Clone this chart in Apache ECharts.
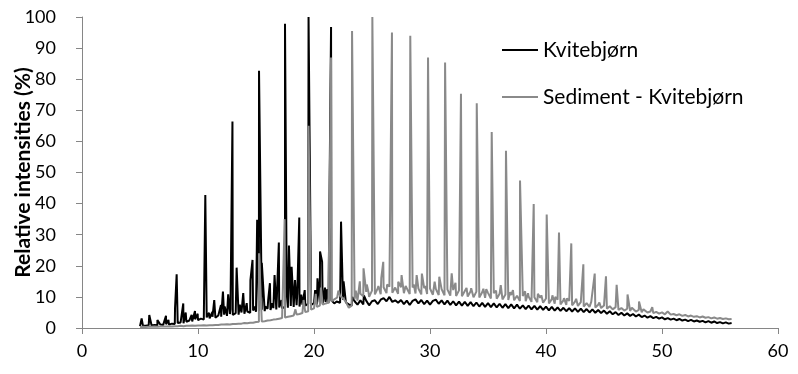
<!DOCTYPE html>
<html>
<head>
<meta charset="utf-8">
<script src="https://cdn.jsdelivr.net/npm/echarts@6/dist/echarts.min.js"></script>
<style>
  html, body { margin: 0; padding: 0; background: #fff; }
  #chart { width: 798px; height: 374px; }
</style>
</head>
<body>
<div id="chart"></div>
<script>
// retention time axis (minutes), baseline sampled every 0.25 from 5.0
var seriesNames = ["Kvitebjørn", "Sediment - Kvitebjørn"];
var xTicks = [0, 10, 20, 30, 40, 50, 60];
var yTicks = [0, 10, 20, 30, 40, 50, 60, 70, 80, 90, 100];
var baseStart = 5.0;
var baseStep = 0.25;

// Kvitebjørn baseline (relative intensity %)
var kvitBase = [
  0.6, 0.8, 0.7, 0.9, 0.8, 1.0, 0.9, 1.1, 1.0,
  1.2, 1.1, 1.4, 1.3, 1.6, 1.8, 1.5, 2.0,
  2.4, 2.1, 2.8, 2.5, 3.0, 2.7, 3.4, 3.1,
  3.6, 3.3, 4.0, 3.6, 4.3, 3.9, 4.5, 4.2,
  4.8, 4.3, 5.0, 4.6, 5.3, 4.9, 5.6, 5.2,
  5.5, 5.9, 5.4, 6.2, 5.8, 6.4, 6.0, 6.6,
  6.3, 6.9, 6.5, 7.1, 6.8, 7.3, 6.9, 7.5,
  7.2, 7.8, 7.4, 8.0, 7.6, 8.2, 7.8, 8.4,
  8.0, 8.9, 7.9, 9.0, 8.1, 9.1, 8.2, 7.6,
  7.2, 8.6, 7.5, 8.9, 7.6, 8.8, 7.3, 8.6,
  8.9, 7.7, 9.1, 9.6, 8.6, 10.0, 8.4, 8.9,
  8.1, 9.0, 7.7, 8.8, 7.4, 8.7, 9.2, 7.9,
  9.0, 7.7, 8.8, 7.5, 8.7, 9.1, 7.8, 8.9,
  7.6, 8.8, 7.4, 8.6, 7.3, 8.5, 7.2, 8.4,
  7.1, 8.3, 7.0, 8.2, 6.9, 8.1, 6.8, 8.0,
  6.7, 7.9, 6.6, 7.8, 6.5, 7.7, 6.4, 7.6,
  6.3, 7.5, 6.2, 7.3, 6.1, 7.2, 6.0, 7.1,
  5.9, 7.0, 5.8, 6.9, 5.7, 6.8, 5.6, 6.6,
  5.5, 6.5, 5.4, 6.4, 5.3, 6.3, 5.2, 6.2,
  5.1, 6.1, 5.0, 6.0, 4.9, 5.8, 4.8, 5.6,
  4.6, 5.4, 4.4, 5.1, 4.2, 4.9, 4.0, 4.7,
  3.9, 4.5, 3.7, 4.3, 3.5, 4.0, 3.3, 3.8,
  3.2, 3.6, 3.0, 3.4, 2.8, 3.2, 2.7, 3.0,
  2.5, 2.9, 2.4, 2.7, 2.2, 2.6, 2.1, 2.4,
  2.0, 2.3, 1.8, 2.2, 1.7, 2.1, 1.6, 1.9,
  1.5, 1.8, 1.4, 1.6
];

// Kvitebjørn peaks [time, intensity]
var kvitPeaks = [
  [5.14, 3.1], [5.8, 4.2], [6.5, 2.6], [7.24, 3.9], [7.45, 2.6], [8.02, 6.5],
  [8.16, 17.3], [8.73, 7.9], [8.94, 5.0], [9.45, 4.2], [9.74, 5.5], [9.97, 4.6],
  [10.63, 42.8], [10.95, 4.9], [11.24, 5.2], [11.4, 9.0], [11.98, 7.4],
  [12.15, 11.7], [12.3, 6.9], [12.6, 10.8], [12.8, 6.0], [12.97, 66.4],
  [13.33, 19.4], [13.6, 7.5], [13.9, 11.2], [14.2, 8.0], [14.52, 15.4],
  [14.7, 21.9], [14.9, 6.9], [15.1, 34.8], [15.26, 82.7], [15.5, 21.0],
  [15.8, 6.9], [16.05, 9.0], [16.2, 14.4], [16.4, 8.0], [16.6, 17.0],
  [16.8, 10.0], [16.97, 27.5], [17.2, 9.0], [17.5, 97.8], [17.65, 11.0],
  [17.84, 26.5], [18.07, 19.7], [18.36, 15.4], [18.56, 11.2], [18.73, 35.5],
  [18.9, 10.7], [19.2, 12.2], [19.53, 100], [19.8, 8.0], [20.1, 12.2],
  [20.3, 16.0], [20.52, 24.6], [20.7, 21.3], [20.95, 13.0], [21.15, 12.5],
  [21.47, 96.8], [21.67, 9.0], [21.95, 8.5], [22.33, 34.2], [22.55, 15.0],
  [22.8, 8.0], [23.3, 10.0], [24.3, 10.5], [26.55, 10.4], [52.04, 2.9], [53.85, 2.4]
];

// Sediment - Kvitebjørn baseline (relative intensity %)
var sedBase = [
  0.3, 0.4, 0.3, 0.4, 0.4, 0.5, 0.4, 0.5, 0.5,
  0.5, 0.6, 0.5, 0.6, 0.6, 0.7, 0.6, 0.7,
  0.7, 0.8, 0.7, 0.8, 0.8, 0.9, 0.8, 0.9,
  0.9, 1.0, 1.0, 1.1, 1.1, 1.2, 1.1, 1.3,
  1.3, 1.4, 1.4, 1.6, 1.5, 1.7, 1.7, 1.9,
  2.0, 2.1, 2.2, 2.4, 2.5, 2.7, 2.8, 3.0,
  3.2, 3.4, 3.6, 3.8, 4.0, 4.3, 4.5, 4.8,
  5.1, 5.4, 5.9, 6.3, 6.8, 7.2, 7.5, 7.9,
  8.2, 8.6, 9.2, 9.8, 10.3, 9.6, 8.4, 6.5,
  7.2, 9.2, 8.8, 11.0, 10.2, 11.6, 10.0, 12.0,
  10.8, 12.8, 10.9, 13.1, 11.2, 13.3, 11.3, 13.0,
  11.0, 13.1, 11.2, 12.9, 10.9, 13.0, 11.1, 12.7,
  10.8, 12.8, 10.9, 12.7, 10.7, 12.6, 10.6, 12.5,
  10.5, 12.4, 10.4, 12.2, 10.3, 12.1, 10.2, 11.9,
  10.1, 11.8, 9.9, 11.7, 9.8, 11.5, 9.7, 11.3,
  9.5, 11.2, 9.4, 11.0, 9.2, 10.8, 9.0, 10.6,
  8.9, 10.4, 8.7, 10.3, 8.6, 10.1, 8.4, 9.9,
  8.3, 9.7, 8.1, 9.5, 7.9, 9.3, 7.8, 9.1,
  7.6, 8.9, 7.4, 8.7, 7.3, 8.5, 7.1, 8.3,
  6.9, 8.0, 6.8, 7.8, 6.6, 7.5, 6.4, 7.2,
  6.2, 7.0, 6.0, 6.7, 5.8, 6.4, 5.6, 6.2,
  5.5, 6.0, 5.3, 5.8, 5.1, 5.6, 5.0, 5.3,
  4.8, 5.2, 4.6, 5.0, 4.4, 4.8, 4.3, 4.5,
  4.1, 4.4, 3.9, 4.2, 3.7, 4.0, 3.6, 3.8,
  3.4, 3.7, 3.3, 3.5, 3.1, 3.4, 3.0, 3.2,
  2.9, 3.1, 2.8, 2.9
];

// Sediment - Kvitebjørn peaks [time, intensity]
var sedPeaks = [
  [15.26, 24.0], [17.47, 35.0], [18.4, 6.0], [19.1, 9.0], [19.53, 65.0],
  [20.15, 11.0], [20.6, 13.0], [21.47, 87.0], [22.1, 12.0], [23.28, 95.5],
  [23.6, 12.0], [23.95, 15.0], [24.27, 19.2], [24.55, 14.0], [24.7, 11.5],
  [25.03, 100], [25.55, 13.5], [25.8, 16.0], [25.97, 21.3], [26.3, 14.0],
  [26.72, 95.0], [27.26, 14.9], [27.55, 17.0], [27.9, 13.5], [28.3, 94.0],
  [28.6, 14.0], [28.85, 17.0], [29.3, 17.5], [29.6, 13.5], [29.83, 87.0],
  [30.4, 14.9], [30.8, 16.5], [31.3, 85.4], [31.6, 12.5], [31.87, 17.6],
  [32.2, 14.5], [32.67, 75.3], [33.15, 12.9], [33.55, 12.8], [34.03, 72.3],
  [34.6, 12.6], [34.85, 12.5], [35.32, 63.0], [35.7, 12.0], [36.1, 13.8],
  [36.55, 57.0], [36.9, 11.5], [37.15, 12.2], [37.76, 47.4], [38.2, 11.8],
  [38.45, 11.2], [38.94, 39.9], [39.3, 11.0], [39.6, 10.5], [40.06, 36.5],
  [40.55, 10.5], [40.8, 10.0], [41.12, 30.7], [41.55, 9.6], [41.8, 9.5],
  [42.18, 27.2], [42.6, 9.4], [43.22, 20.5], [43.6, 8.6], [43.9, 8.4],
  [44.2, 17.5], [44.6, 8.2], [45.17, 16.6], [45.6, 7.5], [46.09, 13.9],
  [46.55, 7.0], [47.03, 10.8], [47.4, 6.5], [48.02, 8.5], [48.4, 6.0],
  [49.16, 6.7], [49.55, 5.5], [50.49, 5.3], [50.9, 4.8], [52.04, 4.2],
  [52.55, 4.1], [53.85, 3.6], [54.55, 3.4]
];

function buildLine(base, peaks) {
  var pts = base.map(function (v, i) { return [baseStart + i * baseStep, v]; });
  pts = pts.concat(peaks);
  pts.sort(function (a, b) { return a[0] - b[0]; });
  return pts;
}

var axisGrey = "#868686";
var fontFam = "Lato, 'Open Sans', sans-serif";

var myChart = echarts.init(document.getElementById("chart"));
myChart.setOption({
  animation: false,
  backgroundColor: "#fff",
  grid: { left: 82, right: 20, top: 17, bottom: 46, containLabel: false, outerBoundsMode: "none" },
  legend: {
    orient: "vertical",
    left: 497,
    top: 33,
    icon: "rect",
    itemWidth: 36,
    itemHeight: 2,
    itemGap: 23,
    data: seriesNames,
    textStyle: { fontFamily: fontFam, fontSize: 21, color: "#000", lineHeight: 24 }
  },
  xAxis: {
    type: "value",
    min: xTicks[0],
    max: xTicks[xTicks.length - 1],
    interval: 10,
    axisLine: { lineStyle: { color: axisGrey, width: 1 } },
    axisTick: { show: true, length: 6, lineStyle: { color: axisGrey } },
    splitLine: { show: false },
    axisLabel: { fontFamily: fontFam, fontSize: 18, color: "#000", margin: 14 }
  },
  yAxis: {
    type: "value",
    min: yTicks[0],
    max: yTicks[yTicks.length - 1],
    interval: 10,
    name: "Relative intensities (%)",
    nameLocation: "middle",
    nameGap: 48,
    nameMoveOverlap: false,
    nameTextStyle: { fontFamily: fontFam, fontSize: 21, fontWeight: "bold", color: "#000" },
    axisLine: { show: true, lineStyle: { color: axisGrey, width: 1 } },
    axisTick: { show: true, length: 6, lineStyle: { color: axisGrey } },
    splitLine: { show: false },
    axisLabel: { fontFamily: fontFam, fontSize: 18, color: "#000", margin: 26 }
  },
  series: [
    {
      name: seriesNames[0],
      type: "line",
      symbol: "none",
      data: buildLine(kvitBase, kvitPeaks),
      lineStyle: { color: "#000", width: 2 },
      itemStyle: { color: "#000" }
    },
    {
      name: seriesNames[1],
      type: "line",
      symbol: "none",
      data: buildLine(sedBase, sedPeaks),
      lineStyle: { color: "#8a8a8a", width: 2 },
      itemStyle: { color: "#8a8a8a" }
    }
  ]
});
</script>
</body>
</html>
